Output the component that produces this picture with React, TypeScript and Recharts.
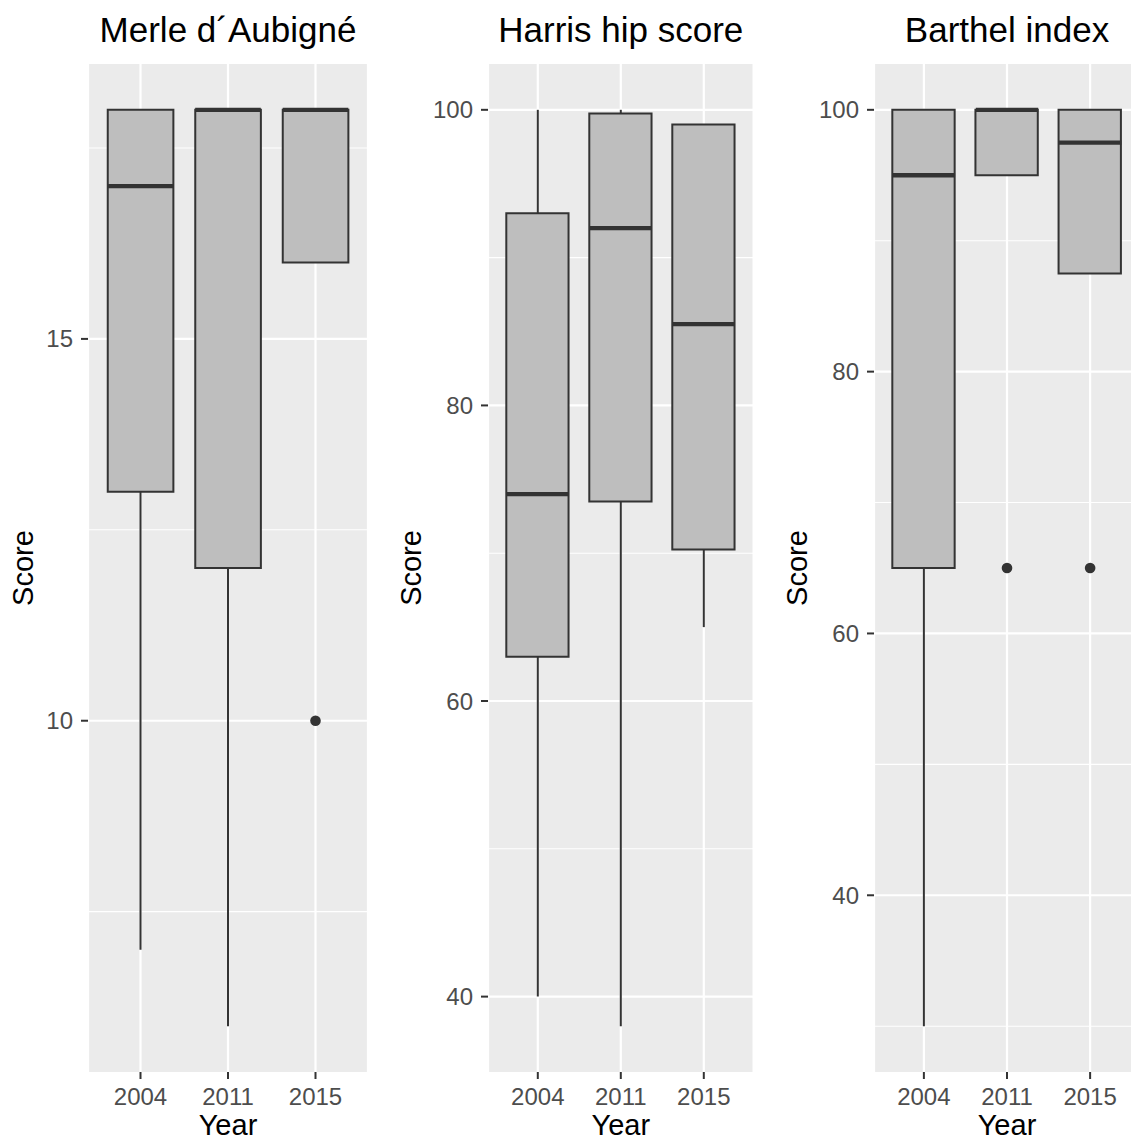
import { ComposedChart, Bar, Scatter, ErrorBar, XAxis, YAxis, CartesianGrid } from 'recharts'

const years = ['2004', '2011', '2015']

// Merle d'Aubigné
const merleMin = [7, 6, 16]
const merleQ1 = [13, 12, 16]
const merleMedian = [17, 18, 18]
const merleQ3 = [18, 18, 18]
const merleMax = [18, 18, 18]
const merleOutliers: (number | null)[] = [null, null, 10]
const merleTicks = [10, 15]
const merleMinorTicks = [7.5, 12.5, 17.5]

// Harris hip score
const harrisMin = [40, 38, 65]
const harrisQ1 = [63, 73.5, 70.25]
const harrisMedian = [74, 92, 85.5]
const harrisQ3 = [93, 99.75, 99]
const harrisMax = [100, 100, 99]
const harrisOutliers: (number | null)[] = [null, null, null]
const harrisTicks = [40, 60, 80, 100]
const harrisMinorTicks = [50, 70, 90]

// Barthel index
const barthelMin = [30, 95, 87.5]
const barthelQ1 = [65, 95, 87.5]
const barthelMedian = [95, 100, 97.5]
const barthelQ3 = [100, 100, 100]
const barthelMax = [100, 100, 100]
const barthelOutliers: (number | null)[] = [null, 65, 65]
const barthelTicks = [40, 60, 80, 100]
const barthelMinorTicks = [30, 50, 70, 90]

const FONT = '"Liberation Sans", Arial, sans-serif'
const INK = '#333333'

function buildRows(
  min: number[],
  q1: number[],
  median: number[],
  q3: number[],
  max: number[],
  outliers: (number | null)[]
) {
  return years.map((year, i) => ({
    year,
    box: [q1[i], q3[i]],
    q1: q1[i],
    median: median[i],
    q3: q3[i],
    upper: [0, max[i] - q3[i]],
    lower: [q1[i] - min[i], 0],
    outlier: outliers[i],
  }))
}

function expand(lo: number, hi: number): [number, number] {
  const pad = (hi - lo) * 0.05
  return [lo - pad, hi + pad]
}

interface PanelProps {
  title: string
  rows: ReturnType<typeof buildRows>
  domain: [number, number]
  ticks: number[]
  minorTicks: number[]
  left: number
  yAxisWidth: number
  plotWidth: number
  rightMargin: number
  labelOffset: number
}

const HEIGHT = 1140
const TOP = 64
const XAXIS_H = 68

function Panel({
  title,
  rows,
  domain,
  ticks,
  minorTicks,
  left,
  yAxisWidth,
  plotWidth,
  rightMargin,
  labelOffset,
}: PanelProps) {
  const unit = plotWidth / 3.2
  const boxWidth = unit * 0.75
  const pad = plotWidth / 32
  const chartWidth = yAxisWidth + plotWidth + rightMargin

  const medianShape = (p: any) =>
    p.cx == null || p.cy == null ? (
      <g />
    ) : (
      <line
        x1={p.cx - boxWidth / 2}
        x2={p.cx + boxWidth / 2}
        y1={p.cy}
        y2={p.cy}
        stroke={INK}
        strokeWidth={4.3}
      />
    )
  const outlierShape = (p: any) =>
    p.payload?.outlier == null || p.cy == null || isNaN(p.cy) ? (
      <g />
    ) : (
      <circle cx={p.cx} cy={p.cy} r={5.3} fill={INK} />
    )

  return (
    <div style={{ position: 'absolute', left, top: 0, width: chartWidth, height: HEIGHT }}>
      <div
        style={{
          position: 'absolute',
          top: 10,
          left: yAxisWidth,
          width: plotWidth,
          textAlign: 'center',
          fontSize: 35,
          lineHeight: '40px',
          color: '#000',
          whiteSpace: 'nowrap',
        }}
      >
        {title}
      </div>
      <ComposedChart
        width={chartWidth}
        height={HEIGHT}
        data={rows}
        margin={{ top: TOP, right: rightMargin, left: 0, bottom: 0 }}
        barCategoryGap={0}
      >
        <CartesianGrid
          fill="#EBEBEB"
          stroke="#FFFFFF"
          strokeWidth={1.1}
          vertical={false}
          horizontalValues={minorTicks}
        />
        <CartesianGrid stroke="#FFFFFF" strokeWidth={2.2} horizontalValues={ticks} />
        <XAxis
          dataKey="year"
          type="category"
          height={XAXIS_H}
          padding={{ left: pad, right: pad }}
          axisLine={false}
          tickSize={7}
          tickMargin={9}
          tickLine={{ stroke: INK, strokeWidth: 2 }}
          tick={{ fontSize: 24, fill: '#4D4D4D' }}
          label={{
            value: 'Year',
            position: 'insideBottom',
            offset: 5,
            fill: '#000',
            style: { fontSize: 29, fill: '#000' },
          }}
        />
        <YAxis
          type="number"
          domain={domain}
          allowDataOverflow
          ticks={ticks}
          width={yAxisWidth}
          axisLine={false}
          tickSize={7}
          tickMargin={8}
          tickLine={{ stroke: INK, strokeWidth: 2 }}
          tick={{ fontSize: 24, fill: '#4D4D4D' }}
          label={{
            value: 'Score',
            angle: -90,
            position: 'insideLeft',
            offset: labelOffset,
            fill: '#000',
            style: { textAnchor: 'middle', fontSize: 29, fill: '#000' },
          }}
        />
        <Bar
          dataKey="box"
          fill="#BEBEBE"
          stroke={INK}
          strokeWidth={2}
          barSize={boxWidth}
          isAnimationActive={false}
        />
        <Scatter dataKey="q3" shape={() => <g />} isAnimationActive={false}>
          <ErrorBar dataKey="upper" direction="y" width={0} stroke={INK} strokeWidth={2} />
        </Scatter>
        <Scatter dataKey="q1" shape={() => <g />} isAnimationActive={false}>
          <ErrorBar dataKey="lower" direction="y" width={0} stroke={INK} strokeWidth={2} />
        </Scatter>
        <Scatter dataKey="median" shape={medianShape} isAnimationActive={false} />
        <Scatter dataKey="outlier" shape={outlierShape} isAnimationActive={false} />
      </ComposedChart>
    </div>
  )
}

export default function App() {
  return (
    <div
      style={{
        position: 'absolute',
        left: 0,
        top: 0,
        width: 1131,
        height: HEIGHT,
        overflow: 'hidden',
        background: '#FFFFFF',
        fontFamily: FONT,
      }}
    >
      <Panel
        title="Merle d´Aubigné"
        rows={buildRows(merleMin, merleQ1, merleMedian, merleQ3, merleMax, merleOutliers)}
        domain={expand(6, 18)}
        ticks={merleTicks}
        minorTicks={merleMinorTicks}
        left={0}
        yAxisWidth={88}
        plotWidth={280}
        rightMargin={9}
        labelOffset={23}
      />
      <Panel
        title="Harris hip score"
        rows={buildRows(harrisMin, harrisQ1, harrisMedian, harrisQ3, harrisMax, harrisOutliers)}
        domain={expand(38, 100)}
        ticks={harrisTicks}
        minorTicks={harrisMinorTicks}
        left={377}
        yAxisWidth={111}
        plotWidth={265.6}
        rightMargin={1}
        labelOffset={34}
      />
      <Panel
        title="Barthel index"
        rows={buildRows(barthelMin, barthelQ1, barthelMedian, barthelQ3, barthelMax, barthelOutliers)}
        domain={expand(30, 100)}
        ticks={barthelTicks}
        minorTicks={barthelMinorTicks}
        left={754}
        yAxisWidth={120}
        plotWidth={266}
        rightMargin={0}
        labelOffset={43}
      />
    </div>
  )
}
